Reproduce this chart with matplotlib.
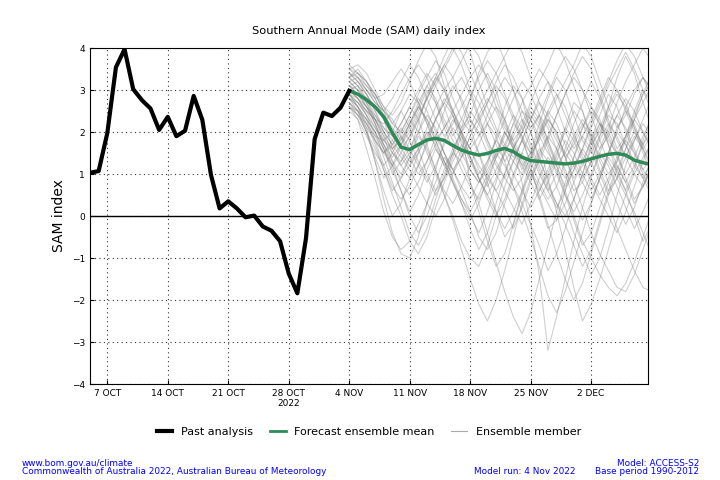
import matplotlib
matplotlib.use('Agg')
import matplotlib.pyplot as plt
from matplotlib.lines import Line2D
import pandas as pd

# ------------------------ Data ------------------------

past_start = '2022-10-05'
past_sam = [1.03, 1.07, 1.97, 3.54, 3.97, 3.02, 2.76, 2.56, 2.05, 2.36,
            1.90, 2.03, 2.86, 2.29, 0.98, 0.18, 0.35, 0.18, -0.03, 0.01,
            -0.25, -0.35, -0.60, -1.37, -1.84, -0.53, 1.83, 2.46, 2.38, 2.58,
            2.98]

fc_start = '2022-11-04'
fc_mean = [2.98, 2.90, 2.77, 2.60, 2.36, 1.98, 1.64, 1.58, 1.70, 1.81,
           1.85, 1.80, 1.68, 1.57, 1.50, 1.45, 1.49, 1.56, 1.61, 1.53,
           1.40, 1.32, 1.30, 1.28, 1.26, 1.24, 1.26, 1.30, 1.36, 1.42,
           1.47, 1.49, 1.45, 1.33, 1.27, 1.22]

# ensemble members (a readable subset of the spaghetti)
m01 = [3.3, 3.5, 3.2, 2.8, 2.3, 1.6, 1.2, 1.5, 2.2, 2.9, 3.3, 3.0, 2.4, 1.7, 1.1, 0.8, 1.2, 1.9, 2.6, 3.1, 2.8, 2.0, 1.3, 0.9, 1.4, 2.1, 2.7, 2.5, 1.8, 1.1, 0.6, 0.9, 1.6, 2.3, 2.9, 3.2]
m02 = [2.8, 2.6, 2.1, 1.3, 0.4, -0.4, -0.9, -1.0, -0.5, 0.3, 1.1, 1.8, 2.3, 2.0, 1.4, 0.9, 0.5, 0.9, 1.6, 2.2, 1.9, 1.2, 0.4, -0.3, -0.1, 0.6, 1.4, 2.1, 2.6, 2.3, 1.7, 1.0, 0.6, 1.1, 1.8, 2.4]
m03 = [3.6, 3.4, 3.1, 2.9, 2.6, 2.4, 2.7, 3.2, 3.7, 4.1, 3.8, 3.1, 2.5, 2.1, 2.4, 3.0, 3.4, 3.0, 2.3, 1.6, 1.1, 1.5, 2.2, 2.8, 3.3, 3.0, 2.4, 1.8, 1.5, 1.9, 2.6, 3.3, 3.8, 3.4, 2.7, 2.1]
m04 = [2.9, 2.7, 2.4, 2.0, 1.4, 0.8, 0.2, -0.4, -0.7, -0.3, 0.4, 1.0, 1.5, 1.3, 0.8, 0.1, -0.6, -1.2, -0.9, -0.2, 0.6, 1.3, 1.9, 2.3, 2.0, 1.4, 0.9, 1.2, 1.8, 2.4, 2.9, 2.6, 2.0, 1.5, 1.1, 1.4]
m05 = [3.1, 3.2, 2.9, 2.5, 2.1, 1.9, 2.2, 2.6, 2.3, 1.7, 1.1, 0.5, -0.1, -0.8, -1.5, -2.1, -2.5, -2.0, -1.3, -0.5, 0.3, 0.9, 1.5, 1.9, 1.6, 1.1, 0.6, 0.8, 1.3, 1.9, 2.4, 2.2, 1.7, 1.2, 0.9, 1.3]
m06 = [2.6, 2.4, 2.2, 1.9, 1.8, 2.0, 2.5, 2.9, 2.7, 2.2, 1.6, 1.2, 1.5, 2.1, 2.8, 3.4, 3.9, 4.2, 3.7, 3.0, 2.3, 1.7, 1.2, 0.7, 0.3, 0.0, 0.4, 1.0, 1.7, 2.2, 2.0, 1.5, 0.9, 0.4, 0.7, 1.2]
m07 = [3.0, 2.8, 2.5, 2.1, 1.8, 1.5, 1.3, 1.6, 2.0, 2.4, 2.1, 1.5, 0.9, 0.4, 0.0, -0.4, 0.1, 0.8, 1.5, 2.0, 2.5, 2.3, 1.7, 0.9, 0.1, -0.8, -1.7, -2.5, -2.1, -1.5, -0.8, -0.1, 0.5, 1.0, 1.4, 1.7]
m08 = [3.4, 3.3, 3.0, 2.7, 2.5, 2.3, 1.9, 1.4, 1.0, 1.3, 1.9, 2.5, 3.0, 3.3, 2.9, 2.3, 1.8, 1.4, 1.7, 2.2, 2.7, 3.1, 3.5, 3.2, 2.6, 2.0, 1.6, 1.9, 2.3, 2.8, 3.3, 3.0, 2.5, 2.0, 1.6, 1.9]
m09 = [2.7, 2.5, 2.0, 1.3, 0.6, 0.0, 0.3, 0.9, 1.5, 2.0, 1.8, 1.3, 1.0, 1.4, 1.9, 1.5, 0.8, 0.1, -0.5, -0.2, 0.5, 1.1, 1.6, 1.3, 0.7, 0.2, -0.4, -0.9, -1.4, -1.0, -0.3, 0.5, 1.2, 1.8, 2.2, 1.9]
m10 = [3.2, 3.0, 2.6, 2.2, 1.7, 1.4, 1.7, 2.1, 2.6, 3.1, 3.4, 3.0, 2.5, 2.0, 1.6, 1.2, 0.9, 0.6, 1.0, 1.6, 2.2, 2.7, 3.2, 3.6, 4.1, 3.7, 3.1, 2.5, 1.9, 1.4, 1.0, 1.3, 1.9, 2.5, 3.0, 2.7]
m11 = [2.9, 2.8, 2.6, 2.3, 1.9, 1.3, 0.8, 0.5, 0.8, 1.3, 1.7, 2.1, 2.4, 2.0, 0.8, 0.3, -0.4, -1.1, -1.8, -2.4, -2.8, -2.3, -1.5, -0.7, 0.1, 0.8, 1.4, 1.9, 1.6, 1.0, 0.5, 0.9, 1.4, 1.9, 1.6, 1.2]
m12 = [3.5, 3.6, 3.4, 3.0, 2.6, 2.2, 2.0, 2.4, 2.9, 3.3, 3.7, 3.4, 2.8, 2.3, 2.0, 2.3, 2.7, 3.1, 2.8, 2.3, 1.8, 1.3, 0.8, 0.4, 0.7, 1.3, 1.8, 2.2, 1.9, 1.3, 0.8, 0.3, -0.2, 0.2, 0.8, 1.4]
m13 = [2.5, 2.3, 1.6, 0.9, 0.1, -0.5, -0.8, -0.6, -0.2, 0.3, 0.8, 1.4, 1.1, 0.6, 0.1, -0.5, -0.8, -0.4, 0.3, 0.9, 1.5, 2.0, 2.4, 2.1, 1.6, 1.0, 0.4, -0.1, 0.3, 0.9, 1.5, 2.1, 2.5, 2.2, 1.6, 1.1]
m14 = [3.1, 2.9, 2.7, 2.6, 2.4, 2.1, 1.8, 2.2, 2.7, 3.1, 2.8, 2.3, 1.9, 2.3, 2.8, 3.3, 3.7, 3.4, 2.9, 2.4, 1.9, 1.5, 1.8, 2.3, 2.0, 1.4, 0.8, 0.2, -0.4, -0.9, -1.3, -1.7, -1.8, -1.4, -0.8, -0.2]
m15 = [3.3, 3.1, 2.8, 2.3, 1.8, 1.6, 1.9, 2.3, 2.0, 1.5, 1.0, 0.5, 0.0, -0.6, -1.0, -1.2, -0.7, 0.0, 0.7, 1.3, 1.8, 1.5, 1.0, 0.6, 1.0, 1.6, 2.2, 2.7, 3.2, 2.8, 2.2, 1.6, 1.9, 2.4, 2.9, 3.4]
m16 = [2.8, 2.7, 2.5, 2.3, 2.2, 2.5, 2.9, 3.3, 3.6, 3.3, 2.7, 2.1, 1.6, 1.1, 0.7, 0.4, 0.8, 1.4, 2.0, 1.6, 0.8, -0.2, -1.4, -3.2, -2.4, -1.5, -0.6, 0.2, 0.9, 1.5, 2.0, 2.4, 2.1, 1.6, 1.1, 0.8]
m17 = [3.0, 3.1, 2.9, 2.6, 2.3, 1.9, 1.6, 1.3, 1.6, 2.1, 2.6, 3.0, 3.3, 3.7, 4.1, 3.8, 3.2, 2.6, 2.1, 1.8, 2.1, 2.6, 2.3, 1.8, 1.3, 0.9, 1.2, 1.6, 2.1, 2.6, 3.1, 3.5, 3.9, 3.5, 3.0, 2.5]
m18 = [2.7, 2.4, 2.0, 1.6, 1.1, 0.6, 0.9, 1.4, 1.9, 1.6, 1.1, 0.6, 0.3, 0.7, 1.2, 1.7, 2.2, 1.9, 1.3, 0.7, 0.1, -0.5, -1.2, -1.9, -2.3, -1.8, -1.1, -0.4, 0.3, 0.9, 1.4, 1.1, 0.6, 0.0, -0.6, -0.2]
m19 = [3.4, 3.2, 2.9, 2.5, 2.0, 1.5, 1.2, 0.9, 1.2, 1.7, 2.3, 2.8, 2.5, 2.0, 1.6, 1.9, 2.4, 2.9, 3.3, 3.0, 2.5, 2.1, 2.4, 2.9, 3.4, 3.8, 3.5, 3.0, 2.6, 2.2, 1.8, 1.5, 1.8, 2.3, 2.0, 1.6]
m20 = [2.9, 2.6, 2.3, 1.8, 1.2, 0.7, 0.4, 0.7, 1.2, 1.8, 2.3, 2.7, 2.4, 1.9, 1.4, 1.0, 1.3, 1.8, 2.3, 2.8, 3.2, 2.9, 2.4, 1.8, 1.2, 0.6, 0.0, -0.6, -1.0, -1.4, -1.7, -1.9, -1.6, -1.1, -0.5, 0.1]
m21 = [3.2, 3.0, 2.8, 2.4, 2.0, 1.7, 1.4, 1.1, 0.7, 0.3, 0.0, 0.4, 1.0, 1.6, 2.1, 2.6, 3.0, 3.4, 3.8, 4.2, 3.9, 3.3, 2.7, 2.2, 1.8, 1.4, 1.7, 2.1, 2.5, 2.2, 1.7, 1.2, 0.8, 1.2, 1.7, 2.2]
m22 = [2.6, 2.5, 2.2, 1.7, 1.1, 0.5, 0.0, -0.6, -0.9, -0.5, 0.2, 0.8, 1.3, 1.7, 1.4, 0.9, 0.4, 0.0, 0.4, 1.0, 1.5, 1.1, 0.5, -0.2, -0.9, -1.5, -2.0, -1.6, -0.9, -0.2, 0.5, 1.1, 1.6, 2.0, 1.7, 1.3]
m23 = [3.3, 3.4, 3.2, 2.9, 2.5, 2.2, 2.5, 2.1, 1.6, 1.0, 0.6, 0.9, 1.5, 2.0, 2.5, 2.2, 1.7, 1.2, 0.9, 1.3, 1.8, 2.3, 2.7, 2.4, 1.9, 1.5, 1.2, 0.8, 0.4, 0.9, 1.5, 2.0, 2.6, 3.0, 3.3, 3.0]
m24 = [3.0, 2.8, 2.4, 1.9, 1.5, 1.2, 1.5, 1.9, 2.4, 2.8, 3.2, 3.6, 3.3, 2.7, 2.1, 1.5, 1.0, 0.6, 0.2, -0.3, 0.2, 0.8, 1.4, 1.9, 2.4, 2.9, 3.3, 3.0, 2.4, 1.8, 1.3, 0.9, 0.5, 0.1, -0.4, -0.9]
m25 = [2.8, 2.6, 2.3, 2.0, 1.6, 1.2, 0.9, 1.2, 1.6, 2.0, 1.7, 1.2, 0.8, 0.4, 0.1, 0.5, 1.0, 1.5, 1.2, 0.7, 0.3, -0.2, -0.7, -1.3, -0.9, -0.3, 0.4, 1.0, 1.6, 2.1, 2.6, 3.0, 2.7, 2.1, 1.5, 1.0]
m26 = [3.5, 3.3, 3.0, 2.7, 2.5, 2.8, 3.2, 3.6, 3.3, 2.8, 2.3, 1.9, 2.2, 2.6, 3.0, 2.7, 2.2, 1.7, 1.3, 1.6, 2.0, 2.5, 2.2, 1.7, 1.2, 0.7, 1.1, 1.6, 2.2, 2.7, 3.2, 3.7, 4.1, 3.8, 3.3, 2.8]
m27 = [2.9, 2.7, 2.4, 2.1, 1.7, 1.2, 0.6, 0.0, -0.4, 0.0, 0.6, 1.1, 1.6, 2.0, 2.3, 2.0, 1.5, 1.0, 0.6, 0.2, -0.2, 0.3, 0.9, 1.4, 1.1, 0.5, -0.1, -0.7, -0.4, 0.2, 0.8, 1.3, 1.8, 1.5, 1.0, 0.6]
m28 = [3.1, 3.0, 2.7, 2.3, 1.9, 1.6, 1.8, 2.2, 2.6, 2.3, 1.8, 1.3, 0.8, 0.3, -0.1, 0.3, 0.9, 1.4, 1.9, 2.4, 2.1, 1.6, 1.1, 0.6, 0.2, 0.6, 1.1, 1.6, 1.3, 0.8, 0.3, -0.3, -0.8, -1.3, -1.7, -1.8]
m29 = [2.6, 2.4, 2.1, 1.8, 1.5, 1.8, 2.2, 2.6, 3.0, 3.4, 3.1, 2.6, 2.0, 1.5, 1.1, 0.8, 1.1, 1.5, 2.0, 1.7, 1.2, 0.8, 0.4, 0.8, 1.3, 1.8, 1.5, 1.0, 0.6, 1.0, 1.5, 2.0, 1.7, 1.3, 0.9, 0.5]
m30 = [3.3, 3.1, 2.7, 2.2, 1.6, 1.0, 1.3, 1.8, 2.3, 2.8, 3.3, 3.8, 4.2, 3.9, 3.4, 2.9, 2.4, 2.0, 1.6, 1.3, 1.0, 1.4, 1.9, 2.5, 2.9, 2.6, 2.0, 1.4, 0.9, 0.5, 0.9, 1.4, 1.9, 2.3, 2.7, 3.1]
m31 = [3.0, 2.9, 2.6, 2.2, 1.7, 1.3, 1.0, 1.4, 2.0, 2.6, 3.1, 3.5, 3.9, 4.3, 3.9, 3.2, 2.6, 2.1, 1.7, 1.4, 1.8, 2.3, 2.8, 3.2, 2.9, 2.4, 1.9, 1.5, 1.2, 1.6, 2.1, 2.7, 3.2, 3.6, 4.0, 3.7]
m32 = [2.7, 2.5, 2.3, 2.0, 1.6, 1.1, 0.6, 0.1, 0.5, 1.1, 1.6, 1.3, 0.8, 0.3, -0.3, -0.8, -0.4, 0.3, 1.0, 1.6, 2.0, 2.4, 2.1, 1.6, 1.0, 0.5, 0.1, 0.5, 1.0, 1.5, 1.2, 0.7, 0.2, -0.3, 0.1, 0.6]
m33 = [3.4, 3.2, 3.0, 2.8, 2.9, 3.2, 3.5, 3.2, 2.7, 2.2, 1.8, 2.1, 2.5, 2.9, 3.3, 3.6, 3.3, 2.8, 2.2, 1.7, 1.3, 0.9, 1.3, 1.8, 2.4, 2.9, 3.4, 3.8, 3.5, 2.9, 2.3, 1.8, 1.4, 1.8, 2.3, 2.8]
m34 = [2.9, 2.6, 2.2, 1.8, 1.5, 1.7, 2.1, 1.8, 1.3, 0.9, 0.5, 0.9, 1.4, 1.9, 1.6, 1.1, 0.7, 1.1, 1.5, 1.9, 2.3, 2.0, 1.4, 0.8, 0.3, -0.2, -0.7, -1.2, -0.8, -0.1, 0.6, 1.2, 0.8, 0.3, 0.7, 1.2]
m35 = [3.2, 3.3, 3.1, 2.8, 2.4, 2.0, 1.7, 2.0, 2.5, 3.0, 2.7, 2.2, 1.8, 1.4, 1.7, 2.2, 2.7, 3.2, 3.6, 3.3, 2.8, 2.3, 1.9, 1.5, 1.2, 1.5, 1.9, 2.3, 2.0, 1.6, 1.9, 2.4, 2.8, 2.5, 2.0, 1.6]
m36 = [2.8, 2.5, 2.0, 1.4, 0.9, 1.2, 1.7, 2.2, 2.6, 2.3, 1.9, 1.5, 1.1, 0.7, 0.4, 0.8, 1.3, 1.8, 1.5, 1.0, 0.6, 0.2, 0.6, 1.1, 1.6, 2.1, 1.8, 1.3, 0.8, 0.4, 0.0, -0.4, 0.1, 0.7, 1.3, 1.8]
m37 = [3.1, 2.9, 2.6, 2.4, 2.1, 1.8, 1.5, 1.2, 1.5, 1.9, 2.3, 2.7, 3.1, 2.8, 2.3, 1.9, 2.2, 2.6, 2.3, 1.8, 1.4, 1.0, 0.6, 1.0, 1.5, 2.0, 2.5, 2.2, 1.7, 2.0, 2.5, 2.9, 2.6, 2.1, 1.7, 2.0]
m38 = [3.5, 3.4, 3.2, 2.9, 2.5, 2.0, 1.6, 1.9, 2.3, 2.8, 3.2, 3.6, 4.0, 3.6, 3.0, 2.4, 1.8, 1.3, 0.9, 0.6, 0.9, 1.4, 1.9, 2.4, 2.8, 3.2, 3.6, 4.1, 3.8, 3.2, 2.6, 2.1, 2.4, 2.9, 3.3, 3.0]
m39 = [2.6, 2.3, 1.9, 1.5, 1.2, 1.5, 1.9, 1.6, 1.2, 0.8, 1.2, 1.7, 2.1, 1.8, 1.3, 0.9, 0.5, 0.1, -0.3, 0.1, 0.6, 1.1, 0.7, 0.3, -0.1, 0.3, 0.8, 1.3, 1.8, 2.2, 1.9, 1.4, 1.0, 1.4, 1.9, 2.3]
m40 = [3.0, 2.8, 2.5, 2.3, 2.0, 1.7, 2.0, 2.4, 2.8, 2.5, 2.0, 1.5, 1.1, 1.4, 1.9, 2.4, 2.8, 2.5, 2.0, 1.6, 1.2, 1.5, 2.0, 2.5, 2.2, 1.7, 1.3, 0.9, 1.3, 1.8, 2.2, 1.9, 1.4, 1.0, 0.7, 1.1]
members = [m01, m02, m03, m04, m05, m06, m07, m08, m09, m10,
           m11, m12, m13, m14, m15, m16, m17, m18, m19, m20,
           m21, m22, m23, m24, m25, m26, m27, m28, m29, m30,
           m31, m32, m33, m34, m35, m36, m37, m38, m39, m40]

tick_dates = ['2022-10-07', '2022-10-14', '2022-10-21', '2022-10-28', '2022-11-04',
              '2022-11-11', '2022-11-18', '2022-11-25', '2022-12-02']
tick_labels = ['7 OCT', '14 OCT', '21 OCT', '28 OCT\n2022', '4 NOV',
               '11 NOV', '18 NOV', '25 NOV', '2 DEC']

past_dates = pd.date_range(past_start, periods=len(past_sam), freq='D')
fc_dates = pd.date_range(fc_start, periods=len(fc_mean), freq='D')

# ------------------------ Plot ------------------------

fig = plt.figure(figsize=(7.2, 4.8), dpi=100)
ax = fig.add_axes([0.125, 0.2, 0.775, 0.7])

for m in members:
    ax.plot(fc_dates[:len(m)], m, color='gray', lw=0.8, alpha=0.38, zorder=2)

ax.plot(fc_dates, fc_mean, color='#2e8b57', lw=2.5, zorder=4)
ax.plot(past_dates, past_sam, color='black', lw=3, zorder=5)
ax.axhline(0, color='black', lw=1, zorder=3)

ax.set_xlim(pd.Timestamp('2022-10-05'), pd.Timestamp('2022-12-08 14:00'))
ax.set_ylim(-4, 4)
ax.set_yticks(range(-4, 5))
ax.set_xticks(pd.to_datetime(tick_dates))
ax.set_xticklabels(tick_labels)
ax.tick_params(labelsize=6.5, direction='in', length=3)
ax.grid(True, linestyle=(0, (1, 3)), color='#333333', lw=0.8)
ax.set_ylabel('SAM index', fontsize=10)
ax.set_title('Southern Annual Mode (SAM) daily index', fontsize=8.2, pad=10)

handles = [Line2D([], [], color='black', lw=3),
           Line2D([], [], color='#2e8b57', lw=2),
           Line2D([], [], color='#aaaaaa', lw=0.8)]
fig.legend(handles, ['Past analysis', 'Forecast ensemble mean', 'Ensemble member'],
           loc='center', bbox_to_anchor=(0.5125, 0.1), ncol=3, frameon=False,
           fontsize=8, handlelength=1.4, columnspacing=1.5)

fig.text(22 / 720, 1 - 463 / 480, 'www.bom.gov.au/climate', color='blue', fontsize=6.4, va='center')
fig.text(22 / 720, 1 - 472 / 480, 'Commonwealth of Australia 2022, Australian Bureau of Meteorology',
         color='blue', fontsize=6.4, va='center')
fig.text(699 / 720, 1 - 463 / 480, 'Model: ACCESS-S2', color='blue', fontsize=6.4, va='center', ha='right')
fig.text(576 / 720, 1 - 472 / 480, 'Model run: 4 Nov 2022', color='blue', fontsize=6.4, va='center', ha='right')
fig.text(699 / 720, 1 - 472 / 480, 'Base period 1990-2012', color='blue', fontsize=6.4, va='center', ha='right')

fig.savefig('out.png', dpi=100)
